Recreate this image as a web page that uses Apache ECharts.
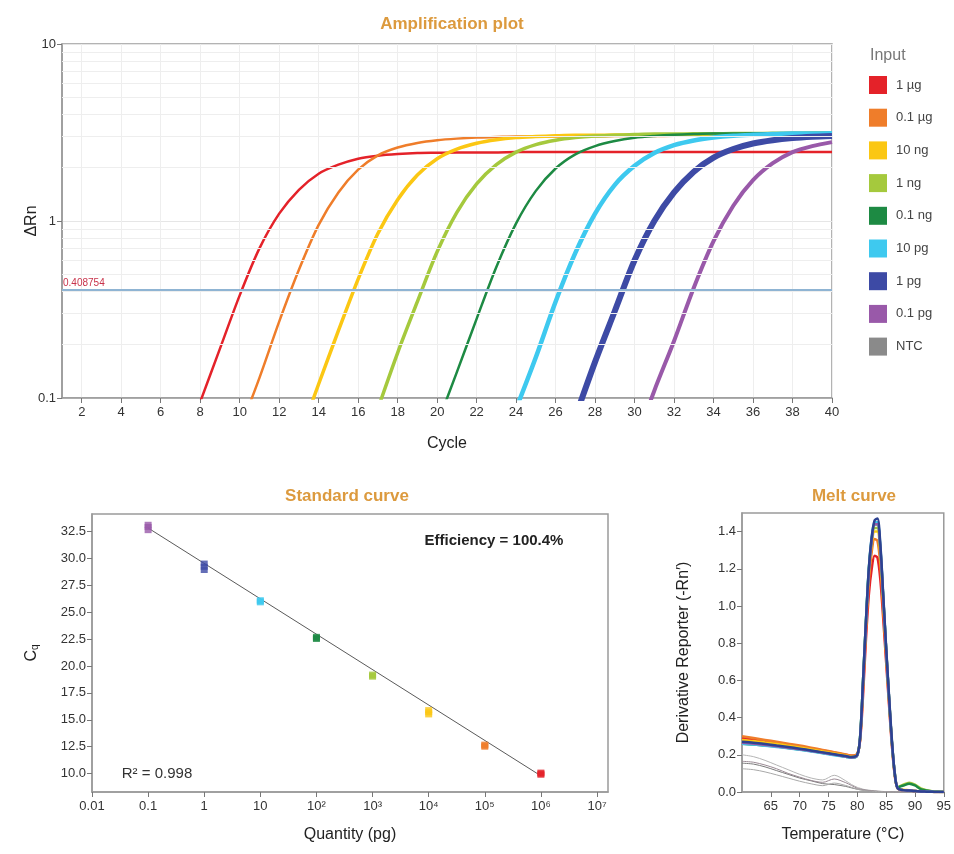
<!DOCTYPE html>
<html lang="en">
<head>
<meta charset="UTF-8">
<title>qPCR amplification, standard curve, melt curve</title>
<script src="https://cdn.jsdelivr.net/npm/echarts@6.0.0/dist/echarts.min.js"></script>
<style>
    html, body { margin: 0; padding: 0; background: #fff; }
    #chart { width: 954px; height: 854px; }
</style>
</head>
<body>
<div id="chart"></div>
<script type="text/javascript">
// legend names and colours
var dilutions = ['1 µg', '0.1 µg', '10 ng', '1 ng', '0.1 ng', '10 pg', '1 pg', '0.1 pg', 'NTC'];
var colors = ['#e42229', '#ef7d2a', '#fbc713', '#a5c93d', '#1d8a43', '#3ec9ef', '#3d4aa5', '#9959a9', '#8a8a8a'];

// amplification plot: delta Rn per cycle (null = not yet above the plot)
var cycles = [1, 2, 3, 4, 5, 6, 7, 8, 9, 10, 11, 12, 13, 14, 15, 16, 17, 18, 19, 20,
    21, 22, 23, 24, 25, 26, 27, 28, 29, 30, 31, 32, 33, 34, 35, 36, 37, 38, 39, 40];
var amp1ug = [null, null, null, null, null, null, 0.048, 0.095, 0.19, 0.38,
    0.7, 1.1, 1.5, 1.85, 2.08, 2.25, 2.34, 2.39, 2.42, 2.43,
    2.44, 2.44, 2.44, 2.45, 2.45, 2.45, 2.45, 2.45, 2.45, 2.45,
    2.45, 2.45, 2.45, 2.45, 2.45, 2.45, 2.45, 2.45, 2.45, 2.45];
var amp01ug = [null, null, null, null, null, null, null, null, null, 0.066,
    0.13, 0.27, 0.53, 0.95, 1.45, 1.95, 2.35, 2.6, 2.76, 2.86,
    2.92, 2.96, 2.98, 3.0, 3.0, 3.0, 3.01, 3.01, 3.02, 3.02,
    3.02, 3.03, 3.03, 3.03, 3.04, 3.04, 3.04, 3.05, 3.05, 3.05];
var amp10ng = [null, null, null, null, null, null, null, null, null, null,
    null, null, 0.059, 0.12, 0.24, 0.47, 0.85, 1.32, 1.82, 2.25,
    2.55, 2.75, 2.88, 2.96, 3.0, 3.03, 3.05, 3.05, 3.06, 3.06,
    3.07, 3.07, 3.07, 3.08, 3.08, 3.08, 3.09, 3.09, 3.09, 3.1];
var amp1ng = [null, null, null, null, null, null, null, null, null, null,
    null, null, null, null, null, null, 0.087, 0.18, 0.35, 0.67,
    1.12, 1.62, 2.08, 2.45, 2.7, 2.86, 2.96, 3.02, 3.05, 3.08,
    3.1, 3.1, 3.11, 3.11, 3.12, 3.12, 3.13, 3.13, 3.14, 3.14];
var amp01ng = [null, null, null, null, null, null, null, null, null, null,
    null, null, null, null, null, null, null, null, null, 0.071,
    0.14, 0.28, 0.55, 0.97, 1.48, 1.98, 2.38, 2.65, 2.83, 2.95,
    3.02, 3.07, 3.1, 3.12, 3.12, 3.13, 3.13, 3.14, 3.14, 3.15];
var amp10pg = [null, null, null, null, null, null, null, null, null, null,
    null, null, null, null, null, null, null, null, null, null,
    null, null, null, 0.087, 0.17, 0.35, 0.66, 1.1, 1.6, 2.05,
    2.42, 2.68, 2.85, 2.96, 3.03, 3.07, 3.1, 3.12, 3.12, 3.13];
var amp1pg = [null, null, null, null, null, null, null, null, null, null,
    null, null, null, null, null, null, null, null, null, null,
    null, null, null, null, null, null, 0.078, 0.16, 0.31, 0.6,
    1.0, 1.45, 1.9, 2.28, 2.55, 2.74, 2.86, 2.94, 2.99, 3.02];
var amp01pg = [null, null, null, null, null, null, null, null, null, null,
    null, null, null, null, null, null, null, null, null, null,
    null, null, null, null, null, null, null, null, null, 0.054,
    0.11, 0.21, 0.42, 0.77, 1.22, 1.7, 2.12, 2.45, 2.65, 2.79];
var threshold = 0.408754;
var cycleTicks = [2, 4, 6, 8, 10, 12, 14, 16, 18, 20, 22, 24, 26, 28, 30, 32, 34, 36, 38, 40];
var rnMinorGrid = [0.2, 0.3, 0.4, 0.5, 0.6, 0.7, 0.8, 0.9, 2, 3, 4, 5, 6, 7, 8, 9];

// standard curve
var stdQuantity = [1e6, 1e5, 1e4, 1e3, 100, 10, 1, 0.1];
var stdCq1ug = [9.9, 10.0, 10.1];
var stdCq01ug = [12.5, 12.6, 12.7];
var stdCq10ng = [15.5, 15.7, 15.9];
var stdCq1ng = [19.0, 19.1, 19.2];
var stdCq01ng = [22.5, 22.6, 22.7];
var stdCq10pg = [25.9, 26.0, 26.1];
var stdCq1pg = [28.9, 29.2, 29.5];
var stdCq01pg = [32.6, 32.9, 33.1];
var fitQuantity = [0.1, 1e6];
var fitCq = [32.8, 9.8];
var quantityTicks = [0.01, 0.1, 1, 10, 100, 1e3, 1e4, 1e5, 1e6, 1e7];
var quantityLabels = ['0.01', '0.1', '1', '10', '10²', '10³', '10⁴', '10⁵', '10⁶', '10⁷'];
var cqTicks = [10, 12.5, 15, 17.5, 20, 22.5, 25, 27.5, 30, 32.5];

// melt curve: derivative reporter vs temperature
var meltTemps = [60, 62, 64, 66, 68, 70, 72, 74, 76, 78, 79, 80, 80.5, 81, 81.5, 82, 82.5, 83, 83.5, 84,
    84.5, 85, 85.5, 86, 86.5, 87, 88, 89, 90, 91, 92, 93, 94, 95];
var melt1ug = [0.29, 0.282, 0.274, 0.265, 0.255, 0.245, 0.234, 0.223, 0.212, 0.2, 0.195, 0.205, 0.28, 0.52, 0.82, 1.06, 1.2, 1.27, 1.26, 1.14,
    0.93, 0.7, 0.47, 0.25, 0.09, 0.02, 0.01, 0.008, 0.005, 0.003, 0.002, 0.001, 0, 0];
var melt01ug = [0.3, 0.29, 0.28, 0.27, 0.26, 0.25, 0.238, 0.226, 0.214, 0.202, 0.196, 0.206, 0.29, 0.56, 0.87, 1.13, 1.29, 1.36, 1.35, 1.22,
    0.98, 0.73, 0.49, 0.26, 0.09, 0.02, 0.01, 0.008, 0.005, 0.003, 0.002, 0.001, 0, 0];
var melt10ng = [0.28, 0.274, 0.266, 0.258, 0.249, 0.24, 0.229, 0.218, 0.207, 0.196, 0.19, 0.202, 0.29, 0.58, 0.9, 1.17, 1.33, 1.4, 1.4, 1.27,
    1.02, 0.76, 0.5, 0.27, 0.1, 0.02, 0.012, 0.01, 0.006, 0.003, 0.002, 0.001, 0, 0];
var melt1ng = [0.265, 0.26, 0.254, 0.247, 0.239, 0.231, 0.221, 0.211, 0.201, 0.191, 0.186, 0.198, 0.3, 0.6, 0.91, 1.19, 1.35, 1.42, 1.42, 1.29,
    1.04, 0.77, 0.51, 0.27, 0.1, 0.025, 0.04, 0.05, 0.04, 0.02, 0.01, 0.004, 0.001, 0];
var melt01ng = [0.26, 0.256, 0.25, 0.244, 0.237, 0.229, 0.22, 0.21, 0.2, 0.19, 0.185, 0.198, 0.3, 0.6, 0.92, 1.2, 1.36, 1.44, 1.44, 1.31,
    1.05, 0.77, 0.51, 0.27, 0.1, 0.025, 0.035, 0.045, 0.035, 0.015, 0.008, 0.003, 0.001, 0];
var melt10pg = [0.26, 0.255, 0.249, 0.242, 0.235, 0.227, 0.218, 0.208, 0.198, 0.189, 0.184, 0.197, 0.3, 0.6, 0.92, 1.2, 1.37, 1.45, 1.45, 1.32,
    1.05, 0.77, 0.51, 0.27, 0.1, 0.02, 0.01, 0.008, 0.005, 0.003, 0.002, 0.001, 0, 0];
var melt1pg = [0.27, 0.265, 0.258, 0.25, 0.242, 0.233, 0.223, 0.213, 0.203, 0.193, 0.188, 0.2, 0.3, 0.6, 0.92, 1.2, 1.37, 1.46, 1.47, 1.33,
    1.06, 0.78, 0.52, 0.28, 0.1, 0.02, 0.01, 0.008, 0.005, 0.003, 0.002, 0.001, 0, 0];
var melt01pg = [0.265, 0.26, 0.253, 0.246, 0.238, 0.23, 0.221, 0.211, 0.201, 0.191, 0.186, 0.198, 0.29, 0.58, 0.9, 1.18, 1.35, 1.44, 1.44, 1.31,
    1.04, 0.77, 0.51, 0.27, 0.1, 0.02, 0.01, 0.008, 0.005, 0.003, 0.002, 0.001, 0, 0];
var meltNtcA = [0.2, 0.19, 0.17, 0.145, 0.12, 0.095, 0.075, 0.065, 0.09, 0.06, 0.04, 0.025, 0.02, 0.015, 0.012, 0.01, 0.008, 0.006, 0.005, 0.004,
    0.003, 0.002, 0.002, 0.001, 0.001, 0, 0, 0, 0, 0, 0, 0, 0, 0];
var meltNtcB = [0.155, 0.15, 0.135, 0.115, 0.095, 0.075, 0.06, 0.045, 0.04, 0.03, 0.022, 0.015, 0.012, 0.01, 0.008, 0.006, 0.005, 0.004, 0.003, 0.002,
    0.002, 0.001, 0.001, 0.001, 0, 0, 0, 0, 0, 0, 0, 0, 0, 0];
var meltNtcC = [0.165, 0.16, 0.145, 0.125, 0.1, 0.08, 0.062, 0.052, 0.07, 0.05, 0.035, 0.02, 0.016, 0.012, 0.01, 0.008, 0.006, 0.005, 0.004, 0.003,
    0.002, 0.002, 0.001, 0.001, 0, 0, 0, 0, 0, 0, 0, 0, 0, 0];
var meltNtcD = [0.125, 0.12, 0.108, 0.092, 0.075, 0.058, 0.044, 0.034, 0.048, 0.035, 0.025, 0.015, 0.012, 0.009, 0.007, 0.005, 0.004, 0.003, 0.002, 0.002,
    0.001, 0.001, 0, 0, 0, 0, 0, 0, 0, 0, 0, 0, 0, 0];
var tempTicks = [65, 70, 75, 80, 85, 90, 95];
var meltTicks = [0, 0.2, 0.4, 0.6, 0.8, 1.0, 1.2, 1.4];

var FONT = '"Liberation Sans", Arial, Helvetica, sans-serif';

function pairs(xs, ys) {
    var out = [];
    for (var i = 0; i < xs.length; i++) {
        if (ys[i] != null) out.push([xs[i], ys[i]]);
    }
    return out;
}

var ampData = [amp1ug, amp01ug, amp10ng, amp1ng, amp01ng, amp10pg, amp1pg, amp01pg];
var ampWidths = [2.5, 2.5, 3.5, 3.5, 2.5, 4.5, 6, 4];
var stdData = [stdCq1ug, stdCq01ug, stdCq10ng, stdCq1ng, stdCq01ng, stdCq10pg, stdCq1pg, stdCq01pg];
var meltData = [melt1ug, melt01ug, melt10ng, melt1ng, melt01ng, melt10pg, melt01pg, melt1pg];
var meltIdx = [0, 1, 2, 3, 4, 5, 7, 6]; // 1 pg drawn last, it sits on top
var ntcData = [meltNtcA, meltNtcB, meltNtcC, meltNtcD];
var ntcColors = ['#b4b4b4', '#7a7a7a', '#9a8a94', '#a8a8a8'];

var axisLine = {show: true, lineStyle: {color: '#9a9a9a', width: 1.5}};
var axisTick = {show: true, length: 5, lineStyle: {color: '#777'}};
var labelStyle = {color: '#333', fontSize: 13, fontFamily: FONT};
var nameStyle = {color: '#222', fontSize: 16, fontFamily: FONT};

var series = [];

// grid lines + threshold for the amplification plot
series.push({
    type: 'line', xAxisIndex: 0, yAxisIndex: 0, data: [], silent: true, z: 1,
    markLine: {
        silent: true, symbol: 'none', animation: false,
        label: {show: false},
        lineStyle: {color: '#eeeeee', width: 1, type: 'solid'},
        data: rnMinorGrid.map(function (v) { return {yAxis: v}; })
    }
});
series.push({
    type: 'line', xAxisIndex: 0, yAxisIndex: 0, data: [], silent: true, z: 2,
    markLine: {
        silent: true, symbol: 'none', animation: false,
        lineStyle: {color: '#8fb4d3', width: 2, type: 'solid'},
        label: {
            show: true, position: 'insideStartTop', distance: [1, 1],
            formatter: String(threshold), color: '#c8324a', fontSize: 10, fontFamily: FONT
        },
        data: [{yAxis: threshold}]
    }
});

ampData.forEach(function (arr, i) {
    series.push({
        type: 'line', name: dilutions[i], xAxisIndex: 0, yAxisIndex: 0,
        data: pairs(cycles, arr), showSymbol: false, smooth: 0.3, z: 3,
        lineStyle: {color: colors[i], width: ampWidths[i]},
        itemStyle: {color: colors[i]}
    });
});

// standard curve
series.push({
    type: 'line', xAxisIndex: 1, yAxisIndex: 1, data: pairs(fitQuantity, fitCq),
    showSymbol: false, silent: true, z: 2,
    lineStyle: {color: '#5a5a5a', width: 1}
});
stdData.forEach(function (arr, i) {
    series.push({
        type: 'scatter', name: dilutions[i], xAxisIndex: 1, yAxisIndex: 1, z: 3,
        data: arr.map(function (c) { return [stdQuantity[i], c]; }),
        symbol: 'rect', symbolSize: [7, 6],
        itemStyle: {color: colors[i]}
    });
});

// melt curve
ntcData.forEach(function (arr, k) {
    series.push({
        type: 'line', name: 'NTC', xAxisIndex: 2, yAxisIndex: 2,
        data: pairs(meltTemps, arr), showSymbol: false, smooth: 0.3, z: 2,
        lineStyle: {color: ntcColors[k], width: 1},
        itemStyle: {color: colors[8]}
    });
});
meltIdx.forEach(function (i, k) {
    series.push({
        type: 'line', name: dilutions[i], xAxisIndex: 2, yAxisIndex: 2,
        data: pairs(meltTemps, meltData[k]), showSymbol: false, smooth: 0.3, z: 3,
        lineStyle: {color: i === 6 ? '#2d4291' : colors[i], width: 2.5},
        itemStyle: {color: colors[i]}
    });
});

var chart = echarts.init(document.getElementById('chart'));
chart.setOption({
    backgroundColor: '#fff',
    animation: false,
    textStyle: {fontFamily: FONT},
    title: [
        {text: 'Amplification plot', left: 447, top: 11, textAlign: 'center',
            textStyle: {color: '#dc9a3e', fontSize: 17, fontWeight: 'bold', fontFamily: FONT}},
        {text: 'Standard curve', left: 342, top: 483, textAlign: 'center',
            textStyle: {color: '#dc9a3e', fontSize: 17, fontWeight: 'bold', fontFamily: FONT}},
        {text: 'Melt curve', left: 849, top: 483, textAlign: 'center',
            textStyle: {color: '#dc9a3e', fontSize: 17, fontWeight: 'bold', fontFamily: FONT}},
        {text: 'Input', left: 865, top: 43,
            textStyle: {color: '#777', fontSize: 16, fontWeight: 'normal', fontFamily: FONT}}
    ],
    legend: {
        data: dilutions, orient: 'vertical', left: 864, top: 71,
        itemWidth: 18, itemHeight: 18, itemGap: 14.7, icon: 'rect',
        selectedMode: false,
        textStyle: {color: '#444', fontSize: 13, fontFamily: FONT, padding: [0, 0, 0, 4]}
    },
    grid: [
        {left: 62, top: 44, width: 770, height: 354, show: true, borderColor: '#9a9a9a', borderWidth: 1.5},
        {left: 92, top: 514, width: 516, height: 278, show: true, borderColor: '#9a9a9a', borderWidth: 1.5},
        {left: 742, top: 513, width: 202, height: 279, show: true, borderColor: '#9a9a9a', borderWidth: 1.5}
    ],
    xAxis: [
        {
            gridIndex: 0, type: 'value', min: 1, max: 40,
            name: 'Cycle', nameLocation: 'middle', nameGap: 38, nameTextStyle: nameStyle,
            axisLine: axisLine,
            axisTick: Object.assign({customValues: cycleTicks}, axisTick),
            axisLabel: Object.assign({customValues: cycleTicks, margin: 8}, labelStyle),
            splitLine: {show: true, lineStyle: {color: '#eeeeee'}}
        },
        {
            gridIndex: 1, type: 'log', logBase: 10, min: 0.01, max: 1.57e7,
            name: 'Quantity (pg)', nameLocation: 'middle', nameGap: 35, nameTextStyle: nameStyle,
            axisLine: axisLine,
            axisTick: Object.assign({customValues: quantityTicks}, axisTick),
            axisLabel: Object.assign({
                customValues: quantityTicks, margin: 8,
                formatter: function (v) {
                    var e = Math.round(Math.log10(v));
                    return quantityLabels[e + 2];
                }
            }, labelStyle),
            splitLine: {show: false}
        },
        {
            gridIndex: 2, type: 'value', min: 60, max: 95, interval: 5,
            name: 'Temperature (°C)', nameLocation: 'middle', nameGap: 35, nameTextStyle: nameStyle,
            axisLine: axisLine,
            axisTick: Object.assign({customValues: tempTicks}, axisTick),
            axisLabel: Object.assign({customValues: tempTicks, margin: 8}, labelStyle),
            splitLine: {show: false}
        }
    ],
    yAxis: [
        {
            gridIndex: 0, type: 'log', logBase: 10, min: 0.1, max: 10,
            name: 'ΔRn', nameLocation: 'middle', nameGap: 22, nameMoveOverlap: false, nameTextStyle: nameStyle,
            axisLine: axisLine, axisTick: axisTick,
            axisLabel: Object.assign({margin: 6}, labelStyle),
            splitLine: {show: true, lineStyle: {color: '#e6e6e6'}}
        },
        {
            gridIndex: 1, type: 'value', min: 8.3, max: 34.1,
            name: 'C{q|q}', nameLocation: 'middle', nameGap: 52,
            nameTextStyle: Object.assign({rich: {q: {fontSize: 10, fontFamily: FONT, color: '#222', verticalAlign: 'bottom', padding: [6, 0, 0, 0]}}}, nameStyle),
            axisLine: axisLine,
            axisTick: Object.assign({customValues: cqTicks}, axisTick),
            axisLabel: Object.assign({
                customValues: cqTicks, margin: 6,
                formatter: function (v) { return v.toFixed(1); }
            }, labelStyle),
            splitLine: {show: false}
        },
        {
            gridIndex: 2, type: 'value', min: 0, max: 1.5,
            name: 'Derivative Reporter (-Rn′)', nameLocation: 'middle', nameGap: 50, nameTextStyle: nameStyle,
            axisLine: axisLine,
            axisTick: Object.assign({customValues: meltTicks}, axisTick),
            axisLabel: Object.assign({
                customValues: meltTicks, margin: 6,
                formatter: function (v) { return v.toFixed(1); }
            }, labelStyle),
            splitLine: {show: false}
        }
    ],
    graphic: [
        {type: 'text', x: 494, y: 541, silent: true,
            style: {text: 'Efficiency = 100.4%', fill: '#222', font: 'bold 15px ' + FONT, align: 'center', verticalAlign: 'middle'}},
        {type: 'text', x: 157, y: 774, silent: true,
            style: {text: 'R² = 0.998', fill: '#333', font: '15px ' + FONT, align: 'center', verticalAlign: 'middle'}}
    ],
    series: series
});
</script>
</body>
</html>
